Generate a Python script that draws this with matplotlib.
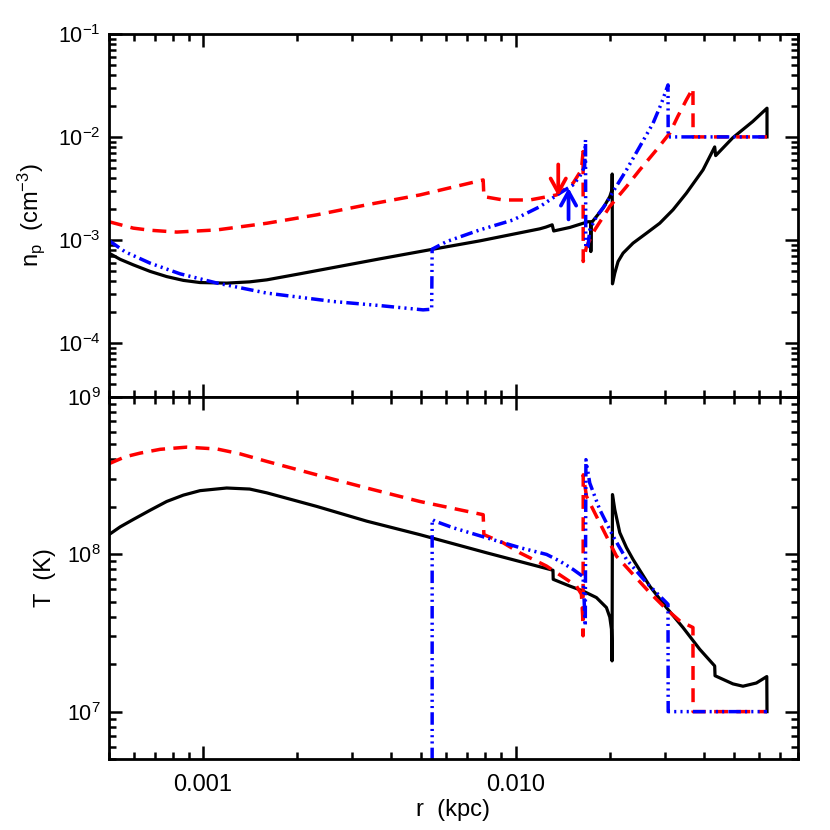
import numpy as np
import matplotlib
matplotlib.use("Agg")
import matplotlib.pyplot as plt
from matplotlib.ticker import LogLocator, FuncFormatter, NullFormatter

plt.rcParams['font.family'] = ['Liberation Sans', 'DejaVu Sans']
plt.rcParams['mathtext.fontset'] = 'custom'
plt.rcParams['mathtext.rm'] = 'Liberation Sans'
plt.rcParams['mathtext.default'] = 'regular'
plt.rcParams['lines.scale_dashes'] = False

# ---- density panel data (r in kpc, n_p in cm^-3)
r_n_black = [0.000500, 0.000543, 0.000598, 0.000677, 0.000765, 0.000865, 0.000978, 0.00119,
             0.00141, 0.00160, 0.00204, 0.00368, 0.00545, 0.00769, 0.01196, 0.01250,
             0.01310, 0.01325, 0.01492, 0.01706, 0.01740, 0.01742, 0.01745, 0.01906,
             0.02003, 0.02036, 0.02039, 0.02043, 0.02078, 0.02129, 0.02209, 0.02377,
             0.02624, 0.02894, 0.03192, 0.03522, 0.03981, 0.04339, 0.04370, 0.04953,
             0.05741, 0.06380, 0.06380]
n_black = [7.43e-4, 6.47e-4, 5.72e-4, 4.94e-4, 4.40e-4, 4.04e-4, 3.85e-4, 3.80e-4,
           3.91e-4, 4.09e-4, 4.68e-4, 6.54e-4, 8.12e-4, 9.78e-4, 1.28e-3, 1.33e-3,
           1.40e-3, 1.22e-3, 1.32e-3, 1.50e-3, 1.50e-3, 7.7e-4, 1.45e-3, 2.03e-3,
           2.63e-3, 3.06e-3, 4.36e-3, 3.74e-4, 4.75e-4, 6.16e-4, 7.43e-4, 9.29e-4,
           1.16e-3, 1.45e-3, 1.96e-3, 2.84e-3, 4.78e-3, 7.99e-3, 6.58e-3, 9.78e-3,
           1.41e-2, 1.90e-2, 1.0e-2]

r_n_red = [0.000500, 0.000598, 0.000677, 0.000824, 0.00111, 0.00160, 0.00231, 0.00334,
           0.00494, 0.00788, 0.00792, 0.00913, 0.01111, 0.01352, 0.01528, 0.01625,
           0.01645, 0.01647, 0.01687, 0.01793, 0.02003, 0.02265, 0.02498, 0.02825,
           0.03115, 0.03304, 0.03522, 0.03697, 0.03700, 0.06380]
n_red = [1.50e-3, 1.30e-3, 1.24e-3, 1.19e-3, 1.25e-3, 1.45e-3, 1.75e-3, 2.19e-3,
         2.73e-3, 3.82e-3, 2.63e-3, 2.44e-3, 2.44e-3, 2.73e-3, 3.55e-3, 4.78e-3,
         7.20e-3, 6.16e-4, 8.61e-4, 1.25e-3, 2.11e-3, 3.29e-3, 4.78e-3, 7.48e-3,
         1.086e-2, 1.575e-2, 2.29e-2, 2.97e-2, 1.0e-2, 1.0e-2]

r_n_blue = [0.000500, 0.000563, 0.000677, 0.000844, 0.00111, 0.00160, 0.00261, 0.00368,
            0.00506, 0.00539, 0.00541, 0.00602, 0.00769, 0.00982, 0.01196, 0.01386,
            0.01528, 0.01605, 0.01664, 0.01675, 0.01678, 0.01706, 0.01728, 0.01815,
            0.01954, 0.02052, 0.02265, 0.02498, 0.02755, 0.02931, 0.03076, 0.03080,
            0.06380]
n_blue = [9.85e-4, 7.65e-4, 5.94e-4, 4.68e-4, 3.80e-4, 3.04e-4, 2.52e-4, 2.30e-4,
          2.09e-4, 2.12e-4, 8.12e-4, 9.63e-4, 1.25e-3, 1.56e-3, 2.10e-3, 2.84e-3,
          3.42e-3, 4.12e-3, 5.15e-3, 9.35e-3, 8.31e-4, 8.61e-4, 1.25e-3, 1.68e-3,
          2.27e-3, 2.94e-3, 4.78e-3, 8.05e-3, 1.358e-2, 2.12e-2, 3.20e-2, 1.0e-2,
          1.0e-2]

# arrows in density panel: (r, n_tail, n_head)
arrow_red = (0.01370, 5.4e-3, 2.65e-3)
arrow_blue = (0.01478, 1.58e-3, 3.2e-3)

# ---- temperature panel data (r in kpc, T in K)
r_T_black = [0.000500, 0.000543, 0.000598, 0.000677, 0.000765, 0.000865, 0.000978, 0.00119,
             0.00141, 0.00160, 0.00231, 0.00334, 0.00494, 0.00808, 0.01288, 0.01318,
             0.01320, 0.01492, 0.01645, 0.01815, 0.01954, 0.02003, 0.02028, 0.02037,
             0.02043, 0.02078, 0.02156, 0.02265, 0.02377, 0.02688, 0.03040, 0.03435,
             0.03885, 0.04339, 0.04350, 0.04965, 0.05345, 0.05900, 0.06370, 0.06380]
T_black = [1.33e8, 1.49e8, 1.66e8, 1.90e8, 2.16e8, 2.37e8, 2.53e8, 2.63e8,
           2.59e8, 2.45e8, 2.01e8, 1.62e8, 1.33e8, 1.02e8, 8.00e7, 7.9e7,
           6.92e7, 6.27e7, 5.83e7, 5.30e7, 4.58e7, 3.98e7, 3.34e7, 2.10e7,
           2.39e8, 1.92e8, 1.37e8, 1.10e8, 9.26e7, 6.27e7, 4.58e7, 3.42e7,
           2.49e7, 1.95e7, 1.69e7, 1.50e7, 1.45e7, 1.52e7, 1.67e7, 1.0e7]

r_T_red = [0.000500, 0.000563, 0.000629, 0.000729, 0.000887, 0.00111, 0.00131, 0.00160,
           0.00231, 0.00334, 0.00494, 0.00788, 0.00792, 0.00913, 0.01032, 0.01257,
           0.01456, 0.01567, 0.01625, 0.01640, 0.01645, 0.01647, 0.01687, 0.01860,
           0.02104, 0.02377, 0.02688, 0.03040, 0.03353, 0.03697, 0.03700, 0.06380]
T_red = [3.75e8, 4.15e8, 4.38e8, 4.63e8, 4.78e8, 4.65e8, 4.34e8, 3.88e8,
         3.19e8, 2.63e8, 2.16e8, 1.78e8, 1.33e8, 1.18e8, 1.02e8, 8.40e7,
         6.92e7, 6.27e7, 5.56e7, 4.05e7, 3.03e7, 3.19e8, 2.33e8, 1.58e8,
         9.71e7, 7.44e7, 5.70e7, 4.47e7, 3.77e7, 3.42e7, 1.0e7, 1.0e7]

r_T_blue = [0.00541, 0.00541, 0.00552, 0.00632, 0.00808, 0.01032, 0.01257, 0.01386,
            0.01528, 0.01645, 0.01672, 0.01680, 0.01728, 0.01860, 0.02052, 0.02265,
            0.02624, 0.03040, 0.03076, 0.03080, 0.06380]
T_blue = [1.0e6, 1.66e8, 1.62e8, 1.47e8, 1.27e8, 1.10e8, 9.96e7, 9.03e7,
          8.00e7, 7.20e7, 3.50e7, 3.98e8, 2.83e8, 1.92e8, 1.30e8, 9.26e7,
          6.59e7, 4.92e7, 4.80e7, 1.0e7, 1.0e7]

red_dash = (0, (10, 6))
blue_dash = (0, (9, 3, 1.5, 3, 1.5, 3, 1.5, 3))

fig = plt.figure(figsize=(8.3, 8.3), dpi=100)
ax1 = fig.add_axes([0.1313, 0.5221, 0.8298, 0.4370])
ax2 = fig.add_axes([0.1313, 0.0855, 0.8298, 0.4366], sharex=ax1)

ax1.plot(r_n_black, n_black, color='black', lw=2.3)
ax1.plot(r_n_red, n_red, color='red', lw=2.5, linestyle=red_dash)
ax1.plot(r_n_blue, n_blue, color='blue', lw=2.5, linestyle=blue_dash)

for (r, a, b), c in [(arrow_red, 'red'), (arrow_blue, 'blue')]:
    ax1.annotate('', xy=(r, b), xytext=(r, a),
                 arrowprops=dict(arrowstyle='->,head_length=1.0,head_width=0.55',
                                 color=c, lw=2.7, shrinkA=0, shrinkB=0))

ax2.plot(r_T_black, T_black, color='black', lw=2.3)
ax2.plot(r_T_red, T_red, color='red', lw=2.5, linestyle=red_dash)
ax2.plot(r_T_blue, T_blue, color='blue', lw=2.5, linestyle=blue_dash)

for ax in (ax1, ax2):
    ax.set_xscale('log')
    ax.set_yscale('log')
    ax.set_xlim(0.0005, 0.08)
    for s in ax.spines.values():
        s.set_linewidth(2.0)
    ax.tick_params(which='both', direction='in', top=True, right=True,
                   width=1.8, labelsize=15.5)
    ax.tick_params(which='major', length=9.5, pad=6)
    ax.tick_params(which='minor', length=5)
    ax.yaxis.set_major_locator(LogLocator(base=10, numticks=20))
    ax.yaxis.set_minor_locator(LogLocator(base=10, subs=np.arange(2, 10), numticks=20))
    ax.yaxis.set_minor_formatter(NullFormatter())
    ax.yaxis.set_major_formatter(FuncFormatter(
        lambda v, p: r'$10^{%d}$' % int(round(np.log10(v)))))
    ax.xaxis.set_minor_locator(LogLocator(base=10, subs=np.arange(2, 10), numticks=20))
    ax.xaxis.set_minor_formatter(NullFormatter())

ax1.set_ylim(3e-5, 1e-1)
ax2.set_ylim(5e6, 1e9)
ax1.tick_params(axis='x', labelbottom=False)
ax2.xaxis.set_major_formatter(FuncFormatter(lambda v, p: '%.3f' % v))
ax2.tick_params(axis='x', which='major', labelsize=17, pad=11)

ax1.set_ylabel(r'n$_p$  (cm$^{-3}$)', fontsize=17, labelpad=8)
ax2.set_ylabel('T  (K)', fontsize=17, labelpad=8)
ax2.set_xlabel('r  (kpc)', fontsize=17, labelpad=2)

fig.savefig('out.png', dpi=100)
